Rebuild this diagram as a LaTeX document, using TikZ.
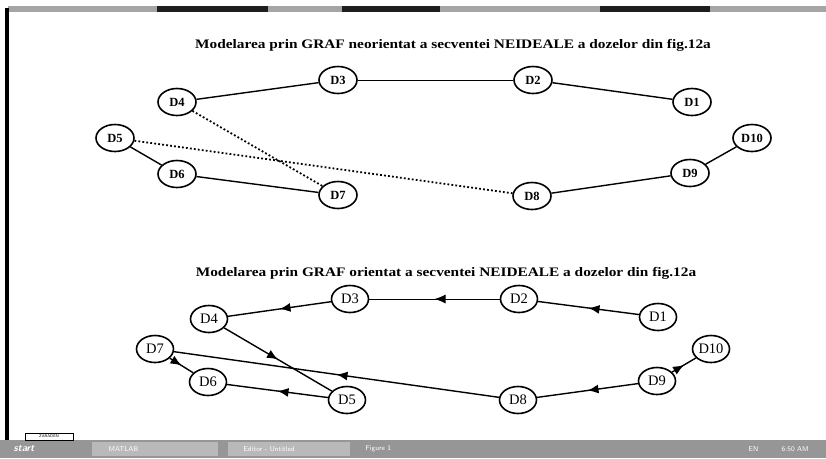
\documentclass[tikz,border=0pt]{standalone}
\usepackage{fontspec}
\setmainfont{Liberation Serif}
\usetikzlibrary{shapes.geometric,decorations.markings,arrows.meta}
\definecolor{barg}{RGB}{150,150,150}
\definecolor{btng}{RGB}{185,185,185}
\definecolor{darkg}{RGB}{30,30,30}
\definecolor{topg}{RGB}{165,165,165}
\begin{document}
\begin{tikzpicture}[x=1pt,y=-1pt,
 unode/.style={draw,ellipse,line width=1.6pt,minimum width=38pt,minimum height=27pt,inner sep=0pt,font=\fontsize{12.5}{12.5}\selectfont\bfseries},
 lnode/.style={draw,ellipse,line width=1.6pt,minimum width=37pt,minimum height=27pt,inner sep=0pt,font=\fontsize{14.5}{14.5}\selectfont},
 uedge/.style={line width=1.4pt},
 dotedge/.style={line width=1.8pt,dash pattern=on 1.8pt off 2.2pt},
 ledge/.style={line width=1.4pt,postaction={decorate},decoration={markings,mark=at position 0.5 with {\arrow{Latex[length=11pt,width=9pt]}}}},
 ttl/.style={font=\fontsize{13}{13}\selectfont\bfseries},
 tb/.style={font=\fontsize{7}{7}\selectfont\sffamily,text=white,anchor=west}
]
\useasboundingbox (0,0) rectangle (826,458);
\fill[white] (0,0) rectangle (826,458);
% screen frame
\fill[topg] (8,6) rectangle (826,12);
\fill[darkg] (157,6) rectangle (268,12);
\fill[darkg] (342,6) rectangle (440,12);
\fill[darkg] (600,6) rectangle (710,12);
\fill[black] (5,8) rectangle (9,440);
% titles
\node[ttl] (t1) at (453,45) {\scalebox{1.18}[1]{Modelarea prin GRAF neorientat a secventei NEIDEALE a dozelor din fig.12a}};
\node[ttl] (t2) at (446,273) {\scalebox{1.18}[1]{Modelarea prin GRAF orientat a secventei NEIDEALE a dozelor din fig.12a}};
% upper graph
\node[unode] (u1) at (692,102) {D1};
\node[unode] (u2) at (533,80) {D2};
\node[unode] (u3) at (338,80) {D3};
\node[unode] (u4) at (177,102) {D4};
\node[unode] (u5) at (115,138) {D5};
\node[unode] (u6) at (177,174) {D6};
\node[unode] (u7) at (338,195) {D7};
\node[unode] (u8) at (532,196) {D8};
\node[unode] (u9) at (690,173) {D9};
\node[unode] (u10) at (752,138) {D10};
\draw[uedge] (u1) -- (u2);
\draw[line width=0.9pt] (u2) -- (u3);
\draw[uedge] (u3) -- (u4);
\draw[dotedge] (u4) -- (u7);
\draw[dotedge] (u5) -- (u8);
\draw[uedge] (u5) -- (u6);
\draw[uedge] (u6) -- (u7);
\draw[uedge] (u8) -- (u9);
\draw[uedge] (u9) -- (u10);
% lower graph
\node[lnode] (l1) at (658,317) {D1};
\node[lnode] (l2) at (519,299) {D2};
\node[lnode] (l3) at (350,299) {D3};
\node[lnode] (l4) at (209,319) {D4};
\node[lnode] (l5) at (347,400) {D5};
\node[lnode] (l6) at (208,382) {D6};
\node[lnode] (l7) at (155,349) {D7};
\node[lnode] (l8) at (518,400) {D8};
\node[lnode] (l9) at (657,381) {D9};
\node[lnode] (l10) at (711,349) {D10};
\draw[ledge] (l1) -- (l2);
\draw[ledge,line width=1pt] (l2) -- (l3);
\draw[ledge] (l3) -- (l4);
\draw[ledge] (l4) -- (l5);
\draw[ledge] (l5) -- (l6);
\draw[ledge] (l7) -- (l6);
\draw[ledge] (l8) -- (l7);
\draw[ledge] (l9) -- (l8);
\draw[ledge] (l9) -- (l10);
% taskbar
\fill[barg] (0,440) rectangle (826,458);
\draw[black,line width=0.6pt,fill=white] (25,433) rectangle (73,440);
\node[font=\fontsize{4}{4}\selectfont\sffamily,inner sep=0pt] (zb) at (49,436.5) {ZARADEN};
\fill[btng] (92,442) rectangle (218,456);
\fill[btng] (228,442) rectangle (350,456);
\node[tb,font=\fontsize{10}{10}\selectfont\sffamily\bfseries\itshape] (st) at (10,449) {start};
\node[tb] (b1) at (105,449) {MATLAB};
\node[tb] (b2) at (240,449) {Editor - Untitled};
\node[tb] (b3) at (362,449) {Figure 1};
\node[tb] (b4) at (745,449) {EN};
\node[tb] (b5) at (778,449) {6:50 AM};
\end{tikzpicture}
\end{document}
